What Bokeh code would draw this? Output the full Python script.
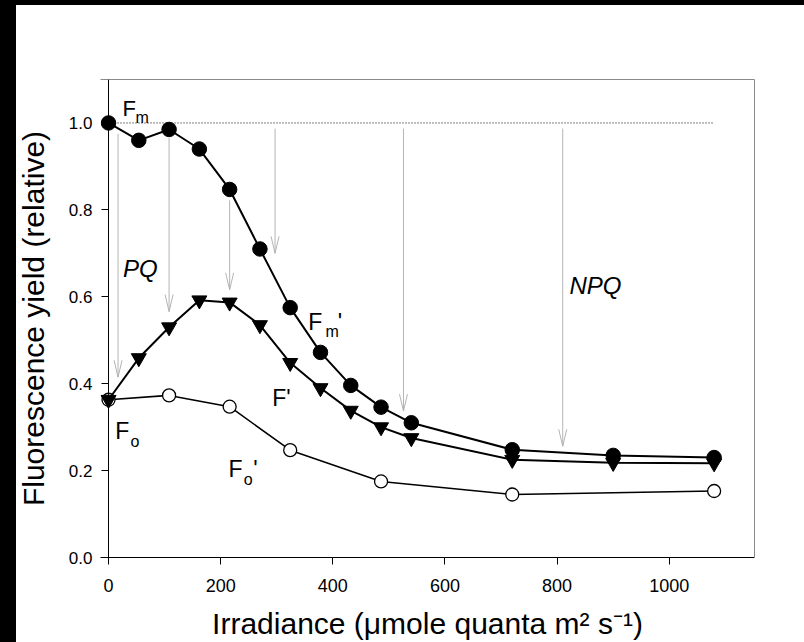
import numpy as np
from bokeh.plotting import figure
from bokeh.models import (Range1d, FixedTicker, PrintfTickFormatter, Label,
                          LinearAxis, CustomJSTickFormatter)
from bokeh.embed import file_html
from bokeh.resources import INLINE

# ---- data ----
irradiance = [0, 54, 108, 162, 216, 270, 324, 378, 432, 486, 540, 720, 900, 1080]
fm_prime = [1.0, 0.96, 0.985, 0.94, 0.847, 0.71, 0.575, 0.472, 0.396, 0.346, 0.31, 0.248, 0.235, 0.23]
f_prime = [0.363, 0.459, 0.53, 0.592, 0.587, 0.535, 0.448, 0.39, 0.338, 0.30, 0.275, 0.225, 0.218, 0.217]
irradiance_fo = [0, 108, 216, 324, 486, 720, 1080]
fo_prime = [0.363, 0.373, 0.347, 0.247, 0.175, 0.145, 0.153]

fm_level_x = [0, 1080]
fm_level_y = [1.0, 1.0]

arrow_x = [17, 108, 216, 297, 526, 810]
arrow_top = [0.975, 0.965, 0.822, 0.987, 0.987, 0.987]
arrow_bottom = [0.415, 0.566, 0.616, 0.70, 0.337, 0.256]

x_ticks = [0, 200, 400, 600, 800, 1000]
y_ticks = [0.0, 0.2, 0.4, 0.6, 0.8, 1.0]

x_title = "Irradiance (\u03bcmole quanta m\u00b2 s\u207b\u00b9)"
y_title = "Fluorescence yield (relative)"

FONT = "Liberation Sans"
GRAY = "#b4b4b4"

X0, X1, Y0, Y1 = -14.3, 1152, 0, 1.1
FRAME_W, FRAME_H = 654, 479

p = figure(width=804, height=642, x_range=Range1d(X0, X1), y_range=Range1d(Y0, Y1),
           output_backend="svg", toolbar_location=None,
           min_border_left=100, min_border_right=50, min_border_top=79, min_border_bottom=84)
p.outline_line_color = None
p.grid.visible = False
p.background_fill_color = "white"
p.border_fill_color = None
# the black edges of the original picture (left and top), painted behind the canvas
p.styles = {"background-color": "white", "box-shadow": "inset 16px 5px 0px 0px black"}

# x axis (bottom)
xa = p.xaxis[0]
xa.ticker = FixedTicker(ticks=x_ticks)
xa.major_tick_out = 7
xa.major_tick_in = 0
xa.minor_tick_line_color = None
xa.axis_line_color = "black"
xa.major_tick_line_color = "black"
xa.major_label_text_font = FONT
xa.major_label_text_font_size = "18px"
xa.major_label_text_color = "black"
xa.major_label_standoff = 14
xa.axis_label = x_title
xa.axis_label_standoff = 12

# y axis labels only (at frame edge)
ya = p.yaxis[0]
ya.ticker = FixedTicker(ticks=y_ticks)
ya.formatter = PrintfTickFormatter(format="%.1f")
ya.axis_line_color = None
ya.major_tick_line_color = None
ya.minor_tick_line_color = None
ya.major_tick_out = 0
ya.major_tick_in = 0
ya.major_label_standoff = 8
ya.major_label_text_font = FONT
ya.major_label_text_font_size = "17px"
ya.major_label_text_color = "black"
ya.axis_label = y_title
ya.axis_label_standoff = 16

for ax in (xa, ya):
    ax.axis_label_text_font = FONT
    ax.axis_label_text_font_size = "30px"
    ax.axis_label_text_font_style = "normal"
    ax.axis_label_text_color = "black"

# gray frame top/right
for loc in ("above", "right"):
    ax = LinearAxis(ticker=FixedTicker(ticks=[]), axis_line_color="#8a8a8a",
                    major_tick_line_color=None, minor_tick_line_color=None)
    p.add_layout(ax, loc)

# y axis line + ticks at x = 0
y0 = LinearAxis(ticker=FixedTicker(ticks=y_ticks), fixed_location=0,
                formatter=CustomJSTickFormatter(code="return ''"),
                axis_line_color="black", major_tick_line_color="black",
                minor_tick_line_color=None, major_tick_in=7, major_tick_out=0)
p.add_layout(y0, "right")

# dotted Fm level
p.line(fm_level_x, fm_level_y, line_color="black", line_width=1, line_dash="1 2")

# quenching arrows: shaft + narrow open "V" head (head size given in pixels)
ax_ = np.array(arrow_x, dtype=float)
at_ = np.array(arrow_top, dtype=float)
ab_ = np.array(arrow_bottom, dtype=float)
head_dx = 4.0 * (X1 - X0) / FRAME_W     # 4 px half-width
head_dy = 17.0 * (Y1 - Y0) / FRAME_H    # 17 px length
p.segment(ax_, at_, ax_, ab_, line_color=GRAY, line_width=1)
p.segment(ax_ - head_dx, ab_ + head_dy, ax_, ab_, line_color=GRAY, line_width=1)
p.segment(ax_ + head_dx, ab_ + head_dy, ax_, ab_, line_color=GRAY, line_width=1)

# series
p.line(irradiance_fo, fo_prime, line_color="black", line_width=1.6)
p.scatter(irradiance_fo, fo_prime, marker="circle", size=13, fill_color="white",
          line_color="black", line_width=1.3)
p.line(irradiance, f_prime, line_color="black", line_width=2)
p.scatter(irradiance, f_prime, marker="inverted_triangle", size=15, fill_color="black",
          line_color="black")
p.line(irradiance, fm_prime, line_color="black", line_width=2)
p.scatter(irradiance, fm_prime, marker="circle", size=14.5, fill_color="black",
          line_color="black")

# text labels
def lab(x, y, t, size, style="normal"):
    p.add_layout(Label(x=x, y=y, text=t, text_font=FONT, text_font_size=size,
                       text_font_style=style, text_color="black",
                       text_align="left", text_baseline="alphabetic"))

lab(25, 1.034, "F", "22px")
lab(48, 1.013, "m", "16px")
lab(26, 0.664, "PQ", "24px", "italic")
lab(822, 0.625, "NPQ", "24px", "italic")
lab(356, 0.543, "F", "23px")
lab(387, 0.52, "m", "16px")
lab(409, 0.543, "'", "23px")
lab(292, 0.368, "F'", "23px")
lab(12, 0.290, "F", "23px")
lab(39, 0.267, "o", "16px")
lab(214, 0.203, "F", "23px")
lab(241, 0.18, "o", "16px")
lab(258, 0.203, "'", "23px")

open("out.html", "w").write(file_html(p, INLINE))
